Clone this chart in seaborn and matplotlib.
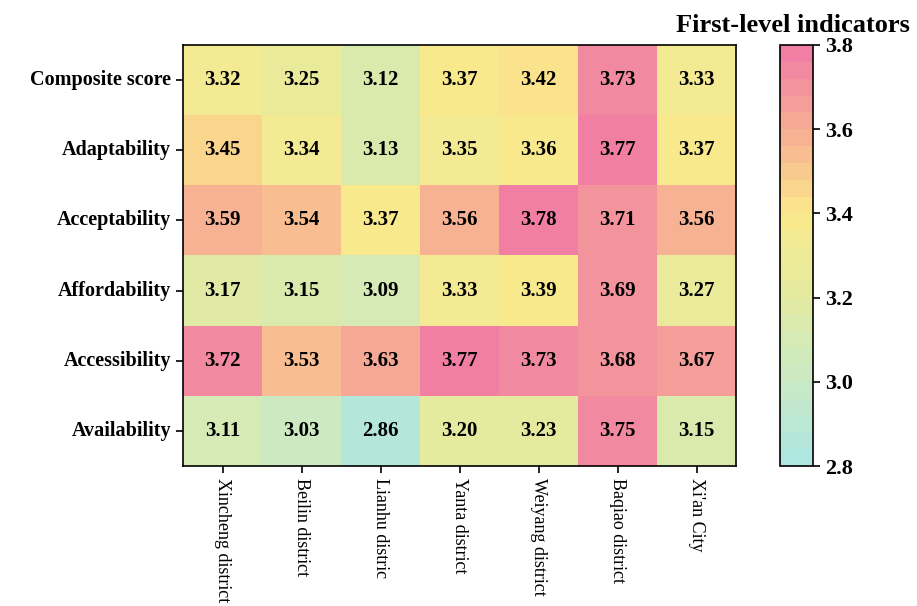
import pandas as pd
import seaborn as sns
import matplotlib.pyplot as plt
from matplotlib.colors import LinearSegmentedColormap

# --- Style ---
sns.set_theme(style="ticks")
plt.rcParams['font.family'] = ['Liberation Serif', 'DejaVu Serif']
plt.rcParams['axes.linewidth'] = 1.2
plt.rcParams['text.color'] = 'black'
plt.rcParams['xtick.color'] = 'black'
plt.rcParams['ytick.color'] = 'black'
plt.rcParams['axes.labelcolor'] = 'black'

# --- Data ---
indicators = ["Composite score", "Adaptability", "Acceptability",
              "Affordability", "Accessibility", "Availability"]
districts = ["Xincheng district", "Beilin district", "Lianhu distric",
             "Yanta district", "Weiyang district", "Baqiao district", "Xi'an City"]

composite_score = [3.32, 3.25, 3.12, 3.37, 3.42, 3.73, 3.33]
adaptability = [3.45, 3.34, 3.13, 3.35, 3.36, 3.77, 3.37]
acceptability = [3.59, 3.54, 3.37, 3.56, 3.78, 3.71, 3.56]
affordability = [3.17, 3.15, 3.09, 3.33, 3.39, 3.69, 3.27]
accessibility = [3.72, 3.53, 3.63, 3.77, 3.73, 3.68, 3.67]
availability = [3.11, 3.03, 2.86, 3.20, 3.23, 3.75, 3.15]

cbar_ticks = [2.8, 3.0, 3.2, 3.4, 3.6, 3.8]

df = pd.DataFrame(
    [composite_score, adaptability, acceptability,
     affordability, accessibility, availability],
    index=indicators, columns=districts)

# colour stops from 2.8 to 3.8 in steps of 0.1
cmap_colors = ["#aee6e0", "#bde8d2", "#cbe9c3", "#d6eab3", "#e3eaa0",
               "#eeeb98", "#fbe98b", "#f9cc8e", "#f6b093", "#f3979b", "#f07fa3"]
cmap = LinearSegmentedColormap.from_list("indic", cmap_colors, N=25)

# --- Figure ---
W, H = 917, 606
fig = plt.figure(figsize=(W / 100, H / 100), dpi=100)
ax = fig.add_axes([183 / W, 1 - 466 / H, (736 - 183) / W, (466 - 45) / H])
cax = fig.add_axes([780 / W, 1 - 466 / H, 33 / W, (466 - 45) / H])

sns.heatmap(
    df, ax=ax, cbar_ax=cax, cmap=cmap, vmin=2.8, vmax=3.8,
    annot=True, fmt=".2f",
    annot_kws={'fontsize': 15, 'fontweight': 'bold', 'color': 'black'},
    cbar_kws={'ticks': cbar_ticks}
)

for spine in ax.spines.values():
    spine.set_visible(True)
    spine.set_color('black')
    spine.set_linewidth(1.2)

ax.tick_params(axis='both', direction='out', length=5, width=1.2, color='black')
ax.set_yticklabels(indicators, rotation=0, fontsize=14.5, fontweight='bold')
ax.set_xticklabels(districts, rotation=270, fontsize=13, va='top', ha='center')
ax.set_xlabel("")
ax.set_ylabel("")

cb = ax.collections[0].colorbar
cb.outline.set_edgecolor('black')
cb.outline.set_linewidth(1.2)
cax.tick_params(direction='out', length=5, width=1.2, color='black')
cax.set_yticklabels([f"{t:.1f}" for t in cbar_ticks], fontsize=16, fontweight='bold')

fig.text(676 / W, 1 - 25 / H, "First-level indicators", ha='left', va='center',
         fontsize=19, fontweight='bold')

fig.savefig("out.png", dpi=100)
